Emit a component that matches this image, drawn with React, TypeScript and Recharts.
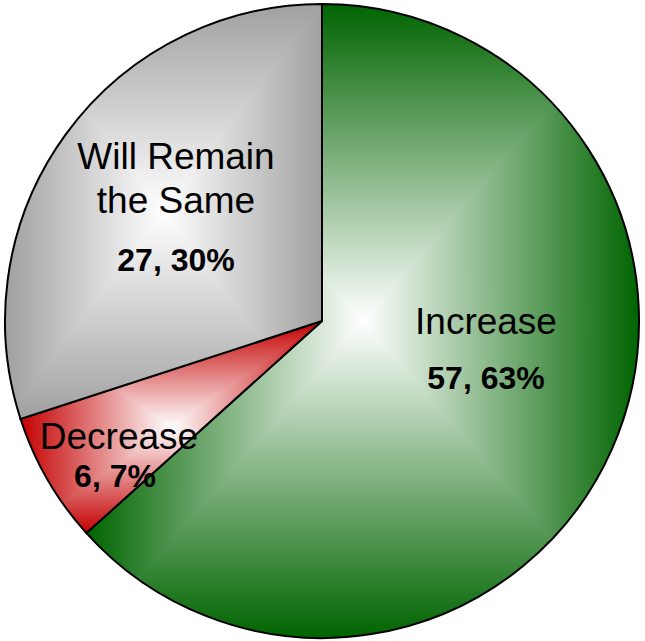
import { Cell, Pie, PieChart } from "recharts";

// Survey answer split.
const categories = ["Increase", "Decrease", "Will Remain the Same"];
const counts = [57, 6, 27];
// How each category name wraps inside its slice.
const nameLines = [["Increase"], ["Decrease"], ["Will Remain", "the Same"]];

const EDGE_COLORS = ["#006400", "#c40000", "#a0a0a0"];
const FONT = "'Liberation Sans', Arial, Helvetica, sans-serif";

// Label placement relative to the pie centre (px): x centre, name baselines,
// value baseline. Excel "best fit" spots, not along the mid-angle.
const LABEL_POS = [
  { x: 164, names: [13], value: 68, valueX: 164 },
  { x: -203, names: [128], value: 166, valueX: -207 },
  { x: -146, names: [-152, -108], value: -50, valueX: -146 },
];

const rows = categories.map((name, i) => ({ name, value: counts[i] }));
const total = counts.reduce((a, b) => a + b, 0);

// Excel's "from centre" fill: a rectangular path gradient over the slice's
// bounding box, built from four triangles each with a linear ramp.
function CentreGradient({ id, color }: { id: string; color: string }) {
  const stops = (
    <>
      <stop offset="0" stopColor={color} />
      <stop offset="1" stopColor="#ffffff" />
    </>
  );
  const tri = (pts: string, g: string) => (
    <polygon points={pts} fill={`url(#${id}-${g})`} stroke={`url(#${id}-${g})`} strokeWidth={0.004} />
  );
  return (
    <>
      <linearGradient id={`${id}-t`} gradientUnits="userSpaceOnUse" x1="0" y1="0" x2="0" y2="0.5">{stops}</linearGradient>
      <linearGradient id={`${id}-b`} gradientUnits="userSpaceOnUse" x1="0" y1="1" x2="0" y2="0.5">{stops}</linearGradient>
      <linearGradient id={`${id}-l`} gradientUnits="userSpaceOnUse" x1="0" y1="0" x2="0.5" y2="0">{stops}</linearGradient>
      <linearGradient id={`${id}-r`} gradientUnits="userSpaceOnUse" x1="1" y1="0" x2="0.5" y2="0">{stops}</linearGradient>
      <pattern id={id} patternUnits="objectBoundingBox" patternContentUnits="objectBoundingBox" width="1" height="1">
        {tri("0,0 1,0 0.5,0.5", "t")}
        {tri("0,1 1,1 0.5,0.5", "b")}
        {tri("0,0 0,1 0.5,0.5", "l")}
        {tri("1,0 1,1 0.5,0.5", "r")}
      </pattern>
    </>
  );
}

function renderLabel(props: any) {
  const { cx, cy, index, value } = props;
  const pos = LABEL_POS[index];
  const pct = Math.round((value / total) * 100);
  return (
    <g key={`lbl-${index}`} fontFamily={FONT} fill="#000">
      {nameLines[index].map((line, j) => (
        <text key={j} x={cx + pos.x} y={cy + pos.names[j]} textAnchor="middle" fontSize={37}>
          {line}
        </text>
      ))}
      <text x={cx + pos.valueX} y={cy + pos.value} textAnchor="middle" fontSize={32} fontWeight="bold">
        {`${value}, ${pct}%`}
      </text>
    </g>
  );
}

export default function App() {
  return (
    <div style={{ position: "absolute", left: 0, top: 0, background: "#fff" }}>
      <PieChart width={645} height={641} margin={{ top: 0, right: 0, bottom: 0, left: 0 }}>
        <defs>
          {EDGE_COLORS.map((c, i) => (
            <CentreGradient key={i} id={`slice-fill-${i}`} color={c} />
          ))}
        </defs>
        <Pie
          data={rows}
          dataKey="value"
          nameKey="name"
          cx={322}
          cy={321}
          outerRadius={317}
          startAngle={90}
          endAngle={-270}
          stroke="#000"
          strokeWidth={2}
          label={renderLabel}
          labelLine={false}
          isAnimationActive={false}
        >
          {rows.map((r, i) => (
            <Cell key={r.name} fill={`url(#slice-fill-${i})`} />
          ))}
        </Pie>
      </PieChart>
    </div>
  );
}
